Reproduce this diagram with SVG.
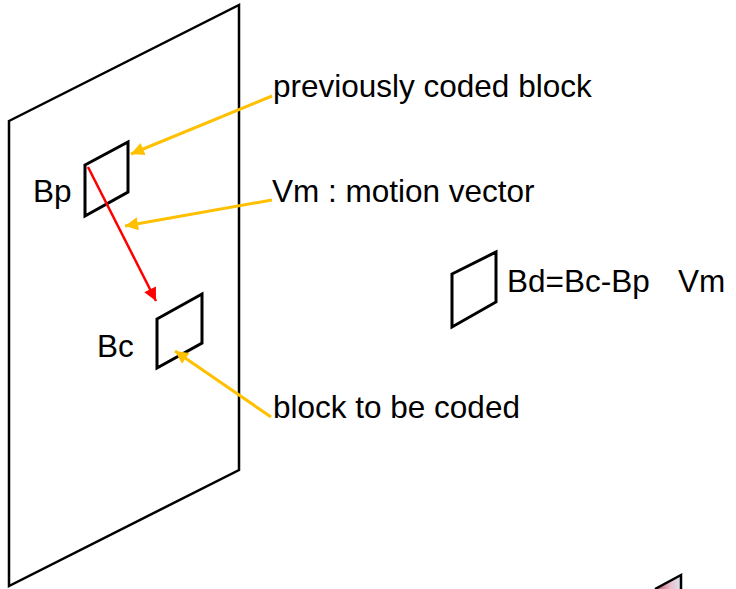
<svg xmlns="http://www.w3.org/2000/svg" width="736" height="589" viewBox="0 0 736 589">
<defs>
<style>
.t{font-family:"Liberation Sans",Arial,sans-serif;font-size:31.5px;fill:#000}
.frame{fill:none;stroke:#000;stroke-width:2.5;stroke-linejoin:miter}
.blk{fill:none;stroke:#000;stroke-width:3;stroke-linejoin:miter}
.ya{fill:none;stroke:#FFC000;stroke-width:3;marker-end:url(#ay)}
.ra{fill:none;stroke:#FF0000;stroke-width:2.5;marker-end:url(#ar)}
</style>
<marker id="ay" viewBox="0 0 10 10" refX="10" refY="5" markerUnits="userSpaceOnUse" markerWidth="15" markerHeight="13" orient="auto">
<path d="M0,0 L10,5 L0,10 Z" fill="#FFC000"/>
</marker>
<marker id="ar" viewBox="0 0 10 10" refX="10" refY="5" markerUnits="userSpaceOnUse" markerWidth="15" markerHeight="13" orient="auto">
<path d="M0,0 L10,5 L0,10 Z" fill="#FF0000"/>
</marker>
<linearGradient id="g" x1="0" y1="0" x2="1" y2="0">
<stop offset="0" stop-color="#c0506a"/>
<stop offset="0.6" stop-color="#e8c0cc"/>
<stop offset="1" stop-color="#dde4f0"/>
</linearGradient>
</defs>
<g id="frame">
<polygon class="frame" points="9,121 239,5 239,470 9,586"/>
</g>
<g id="Bp">
<polygon class="blk" points="85,165 128,142 128,192 85,216"/>
<text class="t" x="33" y="202">Bp</text>
</g>
<g id="Bc">
<polygon class="blk" points="157,319 202,294 202,343 157,368"/>
<text class="t" x="97" y="357">Bc</text>
</g>
<g id="Bd">
<polygon class="blk" points="452,274 496,252 496,302 452,327"/>
<text class="t" x="507" y="292">Bd=Bc-Bp</text>
<text class="t" x="678" y="292">Vm</text>
</g>
<g id="label-prev">
<text class="t" x="273" y="97">previously coded block</text>
</g>
<g id="label-vm">
<text class="t" x="272" y="202">Vm : motion vector</text>
</g>
<g id="label-cur">
<text class="t" x="273" y="418">block to be coded</text>
</g>
<g id="fragment">
<polygon points="655,589 681,575 681,589" fill="url(#g)"/>
<polyline points="655,589 681,575 681,589" fill="none" stroke="#000" stroke-width="2.5"/>
</g>
<g id="connectors">
<line class="ya" x1="272" y1="96" x2="131" y2="154"/>
<line class="ya" x1="272" y1="200" x2="125" y2="226"/>
<line class="ya" x1="271" y1="417" x2="175" y2="351"/>
<line class="ra" x1="88" y1="167" x2="156" y2="301"/>
</g>
</svg>
